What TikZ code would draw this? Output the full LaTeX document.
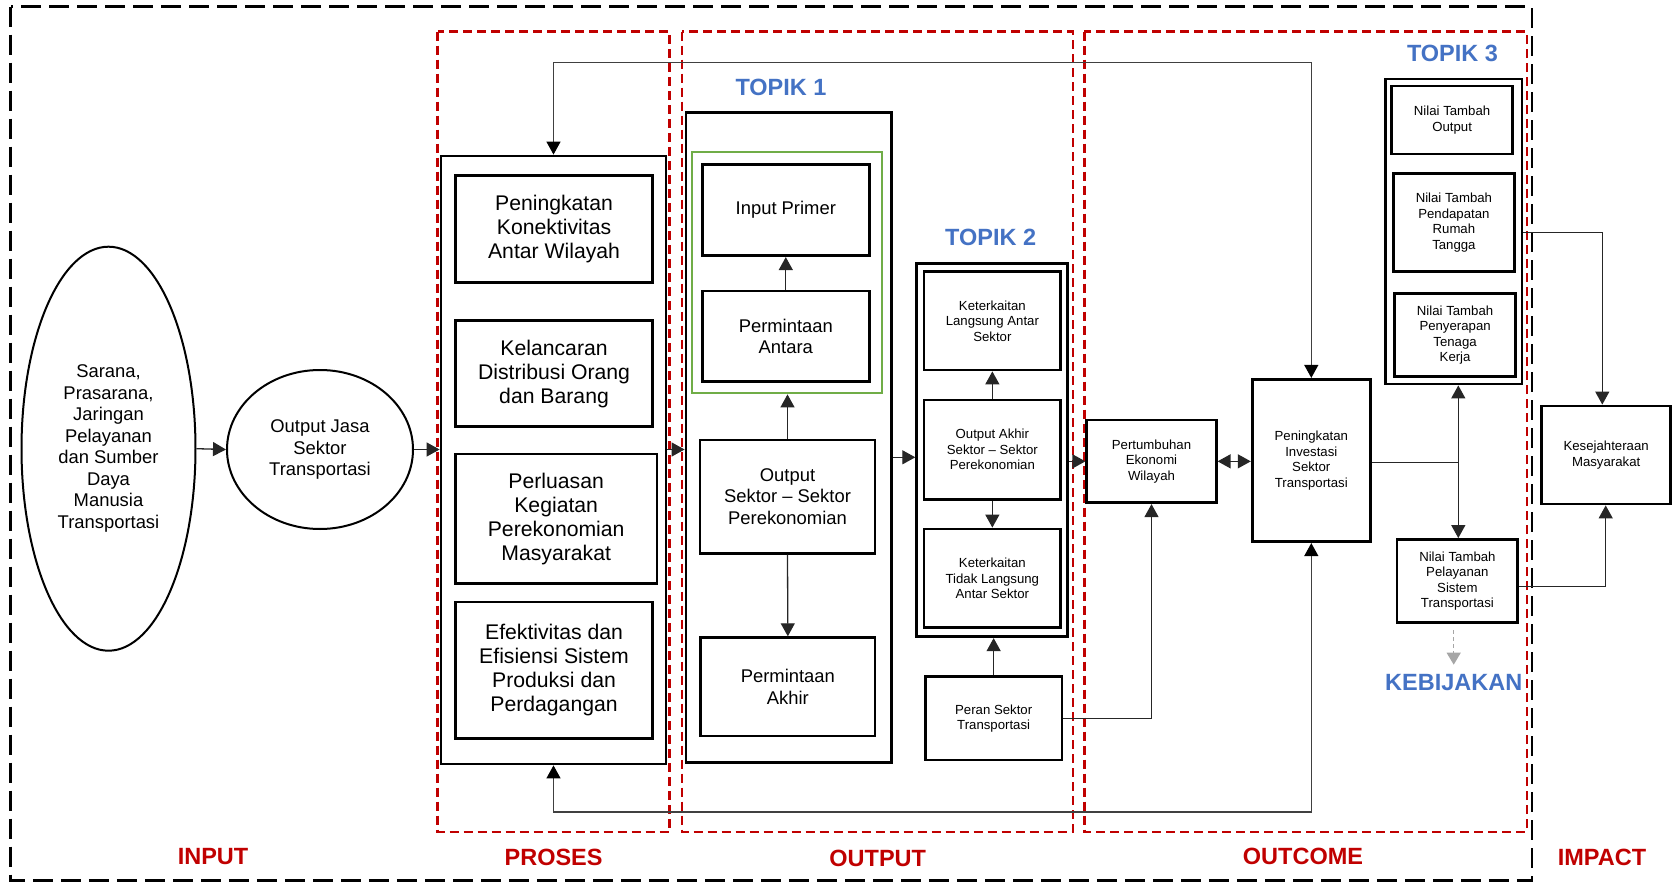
\documentclass[tikz,border=0pt]{standalone}
\usepackage{fontspec}
\setmainfont{Liberation Sans}
\usetikzlibrary{arrows.meta,shapes.geometric}
\definecolor{dred}{HTML}{C00000}
\definecolor{tblue}{HTML}{4472C4}
\definecolor{tgreen}{HTML}{70AD47}
\definecolor{lgray}{HTML}{A6A6A6}
\begin{document}
\begin{tikzpicture}[x=0.5pt,y=-0.5pt,
 box/.style={draw, line width=1.4pt, inner sep=0pt, align=center},
 sz/.style 2 args={minimum width=#1pt, minimum height=#2pt},
 ell/.style={draw, ellipse, line width=1pt, inner sep=0pt, align=center},
 bigtxt/.style={font=\fontsize{10.6}{12}\selectfont},
 medtxt/.style={font=\fontsize{9.2}{10.75}\selectfont},
 smtxt/.style={font=\fontsize{6.6}{7.75}\selectfont},
 lbl/.style={font=\bfseries\fontsize{11.75}{14}\selectfont, text=dred, inner sep=0pt},
 topik/.style={font=\bfseries\fontsize{11.75}{14}\selectfont, text=tblue, inner sep=0pt},
 conn/.style={line width=0.65pt, draw=black!85},
 loopconn/.style={line width=0.65pt, draw=black!75},
 tip/.style={},
 arr/.style={conn, -{Triangle[length=6.5pt,width=7pt]}},
 darr/.style={conn, {Triangle[length=6.5pt,width=7pt]}-{Triangle[length=6.5pt,width=7pt]}},
 loopdarr/.style={loopconn, {Triangle[length=6.5pt,width=7pt,fill=black,color=black]}-{Triangle[length=6.5pt,width=7pt,fill=black,color=black]}},
 kebarr/.style={line width=0.6pt, draw=lgray, dash pattern=on 2pt off 1.5pt, -{Triangle[length=6pt,width=7pt,fill=lgray]}},
 reddash/.style={draw=dred, line width=1.2pt, dash pattern=on 4.5pt off 2.5pt},
 blackdash/.style={draw=black, line width=1.3pt, dash pattern=on 10pt off 4pt},
]
\useasboundingbox (0,0) rectangle (1678,883);

% frames
\draw[blackdash] (10.7,6.7) rectangle (1532,880.5);
\draw[reddash] (437.5,31.7) rectangle (669.6,831.7);
\draw[reddash] (681.7,31.7) rectangle (1072.7,831.7);
\draw[reddash] (1084.3,31.7) rectangle (1526.7,831.7);

% labels
\node[lbl] (linput) at (213,857) {INPUT};
\node[lbl] (lproses) at (553.6,857) {PROSES};
\node[lbl] (loutput) at (877.7,858) {OUTPUT};
\node[lbl] (loutcome) at (1303,856) {OUTCOME};
\node[lbl] (limpact) at (1602,857) {IMPACT};
\node[topik] (top1) at (781,87.7) {TOPIK 1};
\node[topik] (top2) at (990.7,237.7) {TOPIK 2};
\node[topik] (top3) at (1452.5,53.3) {TOPIK 3};
\node[topik] (keb) at (1453.7,682.3) {KEBIJAKAN};

% input
\node[ell, medtxt, minimum width=87pt, minimum height=202pt] (e1) at (108.5,448.7)
 {Sarana,\\Prasarana,\\Jaringan\\Pelayanan\\dan Sumber\\Daya\\Manusia\\Transportasi};
\node[ell, medtxt, minimum width=93pt, minimum height=79.5pt] (e2) at (320,449.5)
 {Output Jasa\\Sektor\\Transportasi};

% proses
\node[box, sz={112.5}{304}] (proses) at (553.5,460) {};
\node[box, bigtxt, sz={98.65}{53.3}] (p1) at (554.05,229) {Peningkatan\\Konektivitas\\Antar Wilayah};
\node[box, bigtxt, sz={98.65}{53}] (p2) at (554.05,373.7) {Kelancaran\\Distribusi Orang\\dan Barang};
\node[box, bigtxt, sz={100.8}{64.65}] (p3) at (556.2,518.65) {Perluasan\\Kegiatan\\Perekonomian\\Masyarakat};
\node[box, bigtxt, sz={98.65}{68.15}] (p4) at (554.05,670.15) {Efektivitas dan\\Efisiensi Sistem\\Produksi dan\\Perdagangan};

% topik 1
\node[box, sz={102.85}{325}] (t1) at (788.85,437.7) {};
\node[draw=tgreen, line width=1.1pt, inner sep=0pt, sz={95}{120.5}] (green) at (786.7,272.8) {};
\node[box, medtxt, sz={83.5}{45.7}] (ip) at (785.8,210) {Input Primer};
\node[box, medtxt, sz={83.5}{45.35}] (pa) at (785.8,336.35) {Permintaan\\Antara};
\node[box, medtxt, sz={87.5}{56.65}] (os) at (787.5,496.65) {Output\\Sektor – Sektor\\Perekonomian};
\node[box, medtxt, sz={87.15}{49.15}] (pak) at (787.85,686.85) {Permintaan\\Akhir};

% topik 2
\node[box, sz={75.3}{186.7}] (t2) at (992,450) {};
\node[box, smtxt, sz={68.35}{49.15}] (kl) at (992.35,320.85) {Keterkaitan\\Langsung Antar\\Sektor};
\node[box, smtxt, sz={68.35}{49.65}] (oa) at (992.35,449.65) {Output Akhir\\Sektor – Sektor\\Perekonomian};
\node[box, smtxt, sz={68.35}{49.35}] (ktl) at (992.35,578.35) {Keterkaitan\\Tidak Langsung\\Antar Sektor};
\node[box, smtxt, sz={68.35}{41.65}] (peran) at (993.65,718.35) {Peran Sektor\\Transportasi};

% outcome
\node[box, smtxt, sz={64.7}{41.35}] (pert) at (1151.5,461.35) {Pertumbuhan\\Ekonomi\\Wilayah};
\node[box, smtxt, sz={59.1}{81.2}] (inv) at (1311.3,460.5) {Peningkatan\\Investasi\\Sektor\\Transportasi};

% topik 3
\node[box, sz={68.2}{152.5}] (t3) at (1453.8,231.5) {};
\node[box, smtxt, sz={60.5}{34}] (nto) at (1452.1,120) {Nilai Tambah\\Output};
\node[box, smtxt, sz={60.7}{49.2}] (ntp) at (1453.9,222.5) {Nilai Tambah\\Pendapatan\\Rumah\\Tangga};
\node[box, smtxt, sz={60.7}{41.7}] (ntk) at (1455.1,335) {Nilai Tambah\\Penyerapan\\Tenaga\\Kerja};
\node[box, smtxt, sz={60.4}{41.6}] (pel) at (1457.4,581.1) {Nilai Tambah\\Pelayanan\\Sistem\\Transportasi};

% impact
\node[box, smtxt, sz={64.35}{49}] (kes) at (1606.15,455) {Kesejahteraan\\Masyarakat};

% helper coordinates
\coordinate (ytop) at (0,62.7);
\coordinate (ybot) at (0,812);
\coordinate (y12) at (0,457.3);
\coordinate (j) at (1458.3,462.3);
\coordinate (k1) at (1602.3,232.3);
\coordinate (k2) at (1605.7,586.7);

% connectors
\draw[arr] (e1.east) -- (e2.west);
\draw[arr] (e2.east) -- (e2.east -| proses.west);
\draw[arr] (proses.east |- e2.east) -- (t1.west |- e2.east);
\draw[arr] (pa.north) -- (ip.south);
\draw[arr] (os.north) -- (os.north |- green.south);
\draw[arr] (os.south) -- (pak.north);
\draw[arr] (t1.east |- y12) -- (t2.west |- y12);
\draw[arr] (oa.north) -- (kl.south);
\draw[arr] (oa.south) -- (ktl.north);
\draw[arr] (peran.north) -- (peran.north |- t2.south);
\draw[arr] (t2.east |- pert.west) -- (pert.west);
\draw[darr] (pert.east) -- (pert.east -| inv.west);
\draw[loopdarr] (proses.north) |- (ytop -| inv.north) -- (inv.north);
\draw[loopdarr] (proses.south) |- (ybot -| inv.south) -- (inv.south);
\draw[arr] (peran.east) -| (pert.south);
\draw[conn] (j -| inv.east) -- (j);
\draw[arr] (j) -- (j |- t3.south);
\draw[arr] (j) -- (j |- pel.north);
\draw[arr] (k1 -| t3.east) -- (k1) -- (k1 |- kes.north);
\draw[arr] (k2 -| pel.east) -- (k2) -- (k2 |- kes.south);
\draw[kebarr] ([yshift=-3pt]keb.north |- pel.south) -- ([yshift=4.5pt]keb.north);
\end{tikzpicture}
\end{document}
